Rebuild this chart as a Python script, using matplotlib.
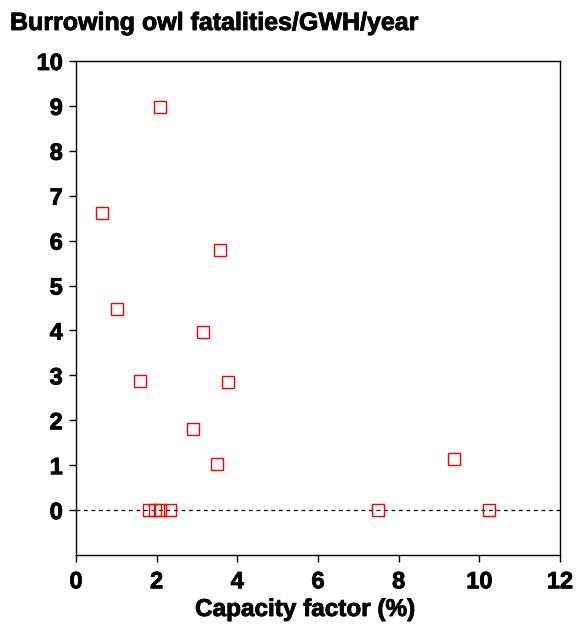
import matplotlib
matplotlib.use("Agg")
import matplotlib.pyplot as plt
import matplotlib.patheffects as pe

plt.rcParams["font.family"] = ["Liberation Sans", "DejaVu Sans"]

# capacity factor (%) vs. burrowing owl fatalities per GWh per year
capacity = [2.08, 0.64, 3.57, 1.02, 3.15, 1.59, 3.77, 2.90, 3.50, 9.37,
            1.82, 1.97, 2.08, 2.33, 7.49, 10.24]
fatalities = [8.98, 6.61, 5.79, 4.48, 3.96, 2.87, 2.85, 1.80, 1.02, 1.14,
              0, 0, 0, 0, 0, 0]

x_ticks = [0, 2, 4, 6, 8, 10, 12]
y_ticks = [0, 1, 2, 3, 4, 5, 6, 7, 8, 9, 10]

# heavier look for the bold labels
heavy = [pe.withStroke(linewidth=0.6, foreground="black")]

fig = plt.figure(figsize=(5.77, 6.25), dpi=100, facecolor="white")
ax = fig.add_axes([76 / 577, 1 - 555 / 625, (560 - 76) / 577, (555 - 61) / 625])

ax.axhline(0, color="black", linewidth=0.9, linestyle=(0, (3, 3)), zorder=1)
ax.plot(capacity, fatalities, linestyle="none", marker="s", markersize=8,
        markerfacecolor="none", markeredgecolor="red", markeredgewidth=1.0,
        zorder=3)

ax.set_xlim(0, 12)
ax.set_ylim(-1, 10)
ax.set_xticks(x_ticks)
ax.set_yticks(y_ticks)
ax.tick_params(direction="out", length=5, width=1, labelsize=17)
ax.tick_params(axis="y", pad=4.5)
ax.tick_params(axis="x", pad=6)
for lab in ax.get_xticklabels() + ax.get_yticklabels():
    lab.set_fontweight("bold")
    lab.set_path_effects(heavy)
for s in ax.spines.values():
    s.set_linewidth(1)

ax.set_xlabel("Capacity factor (%)", fontsize=17.5, fontweight="bold",
              path_effects=heavy)
ax.xaxis.set_label_coords((305 - 76) / (560 - 76), -43 / 494)
fig.text(10 / 577, 1 - 30 / 625, "Burrowing owl fatalities/GWH/year",
         fontsize=18, fontweight="bold", ha="left", va="baseline",
         path_effects=heavy)

fig.savefig("out.png", dpi=100)
